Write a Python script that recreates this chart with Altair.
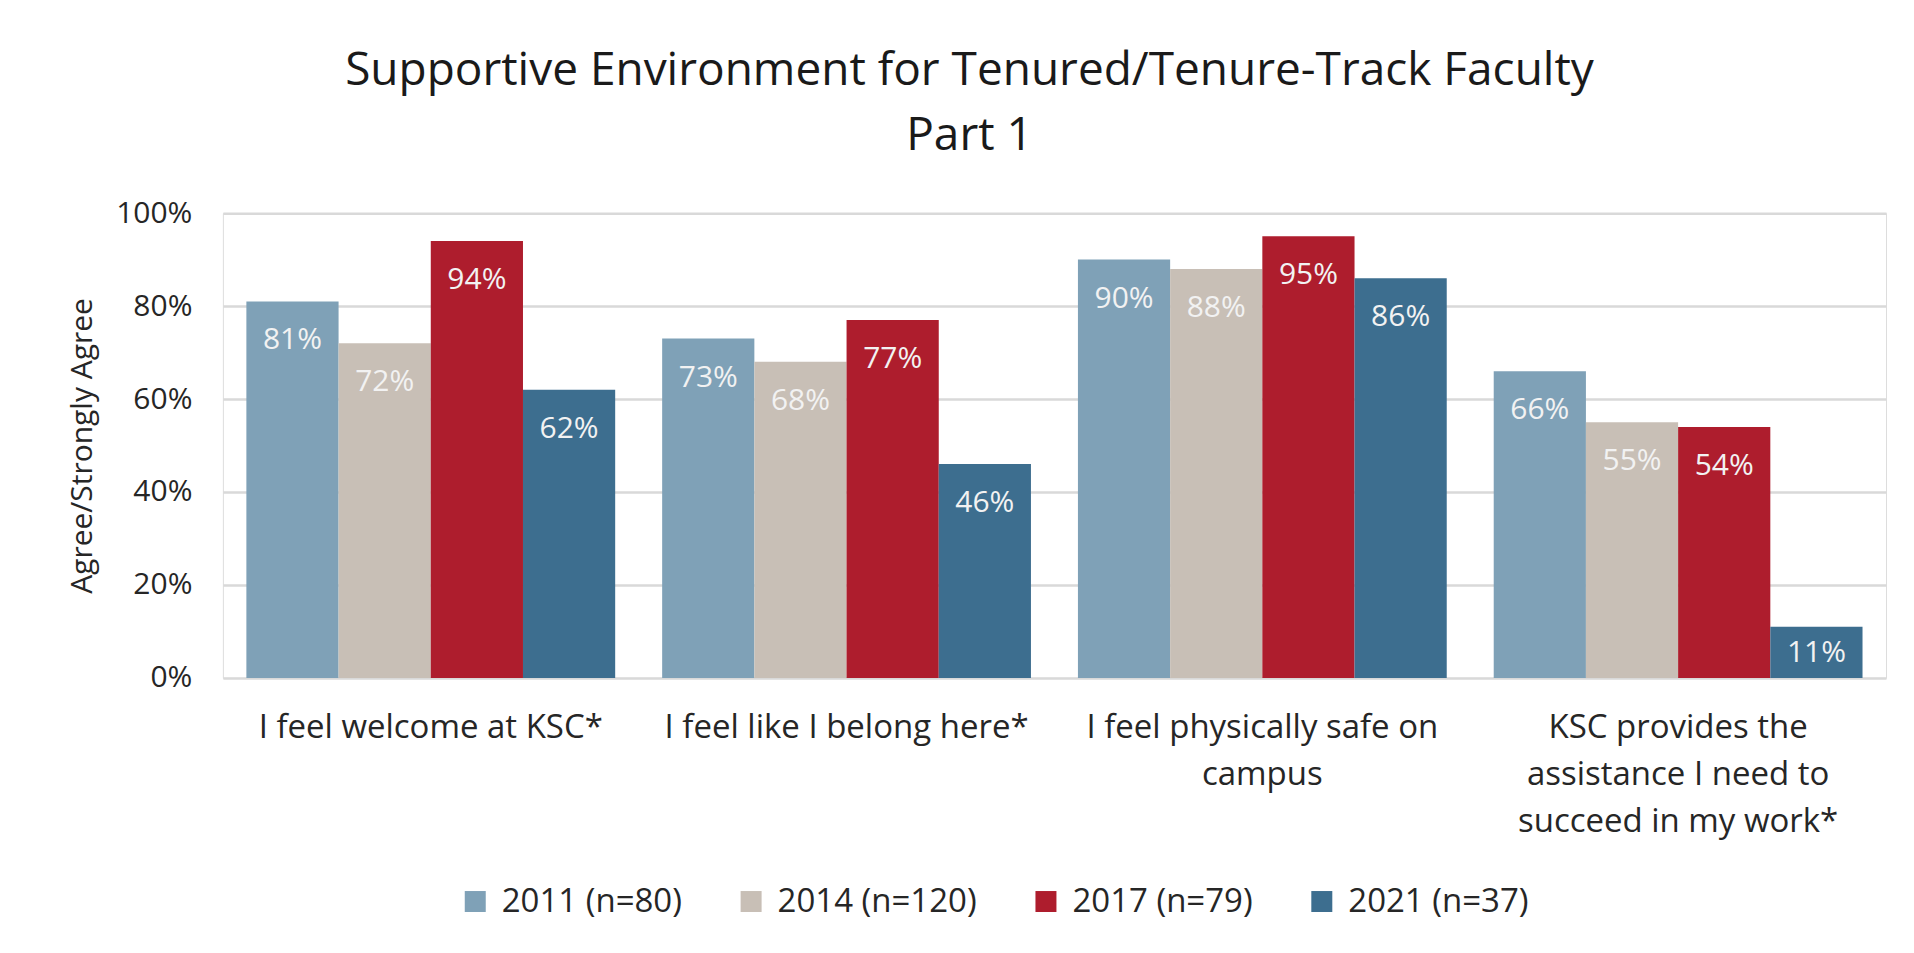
import altair as alt
import pandas as pd

categories = [
    "I feel welcome at KSC*",
    "I feel like I belong here*",
    "I feel physically safe on\ncampus",
    "KSC provides the\nassistance I need to\nsucceed in my work*",
]
series = ["2011 (n=80)", "2014 (n=120)", "2017 (n=79)", "2021 (n=37)"]
colors = ["#7FA1B7", "#C8BFB6", "#AE1D2D", "#3D6E8F"]
v2011 = [0.81, 0.73, 0.90, 0.66]
v2014 = [0.72, 0.68, 0.88, 0.55]
v2017 = [0.94, 0.77, 0.95, 0.54]
v2021 = [0.62, 0.46, 0.86, 0.11]
y_ticks = [0, 0.2, 0.4, 0.6, 0.8, 1.0]

rows = []
for s, vals in zip(series, [v2011, v2014, v2017, v2021]):
    for c, v in zip(categories, vals):
        rows.append({"category": c, "series": s, "value": v})
df = pd.DataFrame(rows)

FONT = "Open Sans"
TXT = "#262626"

x = alt.X("category:N", sort=categories,
          scale=alt.Scale(paddingInner=0.113, paddingOuter=0.0565),
          axis=alt.Axis(title=None, labelAngle=0, ticks=False, domain=False,
                        labelFontSize=33, labelFont=FONT, labelColor=TXT,
                        labelPadding=34, labelLineHeight=47, labelLimit=600,
                        labelExpr="split(datum.value, '\\n')"))
xo = alt.XOffset("series:N", sort=series, scale=alt.Scale(paddingInner=0, paddingOuter=0))
y = alt.Y("value:Q", scale=alt.Scale(domain=[0, 1]),
          axis=alt.Axis(title="Agree/Strongly Agree", values=y_ticks, format=".0%",
                        ticks=False, domain=False, grid=True, gridColor="#D9D9D9",
                        gridWidth=2.5, labelFontSize=30, labelFont=FONT,
                        labelColor=TXT, labelPadding=31, titleFontSize=30,
                        titleFont=FONT, titleFontWeight="normal", titleColor=TXT,
                        titleX=-125))
color = alt.Color("series:N", sort=series,
                  scale=alt.Scale(domain=series, range=colors),
                  legend=alt.Legend(title=None, orient="none", direction="horizontal",
                                    legendX=236, legendY=672, symbolType="square",
                                    symbolSize=441, symbolStrokeWidth=0,
                                    labelFontSize=33, labelFont=FONT, labelColor=TXT,
                                    labelOffset=10, columnPadding=52, labelLimit=500))

base = alt.Chart(df)
bars = base.mark_bar().encode(x=x, xOffset=xo, y=y, color=color)
labels_big = base.transform_filter("datum.value >= 0.15").mark_text(
    baseline="alphabetic", dy=48, fontSize=30, font=FONT, color="#F2F2F2"
).encode(x=x, xOffset=xo, y=y, text=alt.Text("value:Q", format=".0%"))
labels_small = base.transform_filter("datum.value < 0.15").mark_text(
    baseline="alphabetic", dy=35, fontSize=30, font=FONT, color="#F2F2F2"
).encode(x=x, xOffset=xo, y=y, text=alt.Text("value:Q", format=".0%"))

chart = alt.layer(bars, labels_big, labels_small).properties(
    width=1664, height=465,
    padding={"left": 215, "top": 205, "right": 20, "bottom": 255},
    autosize=alt.AutoSizeParams(type="none"),
    title=alt.TitleParams(
        text=["Supportive Environment for Tenured/Tenure-Track Faculty", "Part 1"],
        anchor="middle", dx=-85, dy=60, fontSize=46, font=FONT, fontWeight="normal",
        color="#1A1A1A", lineHeight=65, baseline="bottom", offset=52),
).configure_view(stroke=None).configure(background="white")

chart.save("out.html", embed_options={"renderer": "svg", "actions": False})
